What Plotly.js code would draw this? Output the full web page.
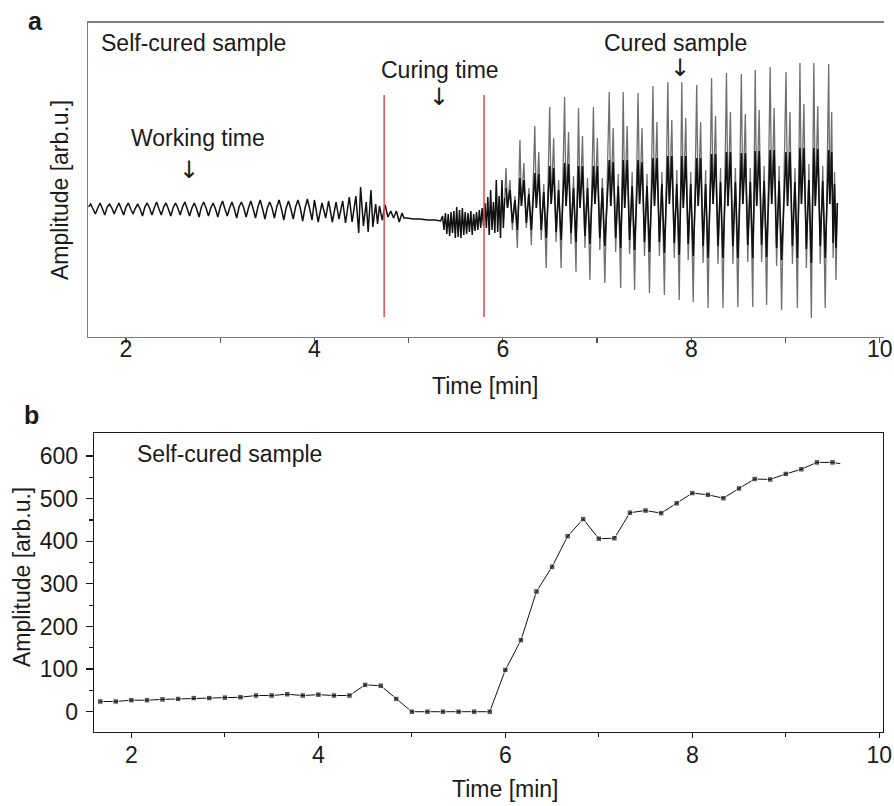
<!DOCTYPE html>
<html><head><meta charset="utf-8">
<script src="https://cdn.plot.ly/plotly-3.0.1.min.js"></script>
<style>html,body{margin:0;padding:0;background:#fff}#chart{width:894px;height:806px}</style>
</head><body><div id="chart"></div>
<script>
// ---------- Panel a: ultrasonic signal (amplitude in arbitrary units, baseline 0) ----------
const workT = [1.600,1.625,1.650,1.675,1.700,1.725,1.750,1.775,1.800,1.825,1.850,1.875,1.900,1.925,1.950,1.975,
  2.000,2.025,2.050,2.075,2.100,2.125,2.150,2.175,2.200,2.225,2.250,2.275,2.300,2.325,2.350,2.375,
  2.400,2.425,2.450,2.475,2.500,2.525,2.550,2.575,2.600,2.625,2.650,2.675,2.700,2.725,2.750,2.775,
  2.800,2.825,2.850,2.875,2.900,2.925,2.950,2.975,3.000,3.025,3.050,3.075,3.100,3.125,3.150,3.175,
  3.200,3.225,3.250,3.275,3.300,3.325,3.350,3.375,3.400,3.425,3.450,3.475,3.500,3.525,3.550,3.575,
  3.600,3.625,3.650,3.675,3.700,3.725,3.750,3.775,3.800,3.825,3.850,3.875,3.900,3.925,3.950,3.975,
  4.00,4.04,4.08,4.12,4.15,4.19,4.23,4.26,4.30,4.33,4.37,4.40,4.44,4.47,4.49,4.52,4.55,4.57,4.60,4.62,
  4.65,4.67,4.69,4.72,4.75,4.78,4.81,4.84,4.87,4.90,4.93,4.95];
const workY = [1,4,-1,-6, 0,5,-1,-7, 1,4,0,-6, 0,5,-1,-7,
  1,5,-1,-6, 0,4,-1,-8, 1,5,0,-7, 0,6,-1,-7,
  1,5,-1,-8, 0,5,0,-7, 1,6,-1,-8, 0,5,-1,-9,
  1,6,0,-8, 0,5,-1,-9, 1,7,-1,-8, 0,6,-1,-10,
  1,6,0,-9, 0,7,-1,-10, 1,8,-1,-11, 0,6,0,-10,
  1,8,-1,-12, 0,7,-1,-11, 1,8,0,-13, 0,9,-1,-12,
  8,-14,5,-10,7,-14,6,-11,7,-15,11,-14,12,-25,21,-18,6,-24,18,-19,
  4,-16,2,-12,3,-9,-3,-10,-3,-14,-5,-10];
const curingT = [4.98,5.05,5.12,5.20,5.28,5.34,
  5.36,5.375,5.39,5.405,5.42,5.435,5.45,5.465,5.48,5.495,5.51,5.525,5.54,5.555,5.57,5.585,5.60,5.615,5.63,5.645,5.66,5.675,5.69,5.705,5.72,5.735,5.75,5.765,5.78,5.795,
  5.81,5.825,5.84,5.855,5.87,5.885,5.90,5.915,5.93,5.945,5.96,5.975,5.99,6.005,6.02];
const curingY = [-10,-11,-11,-12,-12,-13,
  -8,-22,-5,-26,-6,-28,-4,-25,-3,-30,1,-29,-2,-30,0,-27,-4,-26,-5,-24,-3,-27,-6,-23,-4,-22,-2,-20,0,-18,
  5,-20,11,-27,18,-22,6,-25,28,-24,12,-30,28,-20,10];
const curedT = [
  6.033,6.049,6.075,6.101,6.128,6.154, 6.181,6.197,6.223,6.249,6.276,6.302,
  6.339,6.355,6.381,6.407,6.434,6.460, 6.497,6.513,6.539,6.565,6.592,6.618,
  6.655,6.671,6.697,6.723,6.750,6.776, 6.803,6.819,6.845,6.871,6.898,6.924,
  6.961,6.977,7.003,7.029,7.056,7.082, 7.129,7.145,7.171,7.197,7.224,7.250,
  7.277,7.293,7.319,7.345,7.372,7.398, 7.435,7.451,7.477,7.503,7.530,7.556,
  7.593,7.609,7.635,7.661,7.688,7.714, 7.751,7.767,7.793,7.819,7.846,7.872,
  7.899,7.915,7.941,7.967,7.994,8.020, 8.057,8.073,8.099,8.125,8.152,8.178,
  8.215,8.231,8.257,8.283,8.310,8.336, 8.373,8.389,8.415,8.441,8.468,8.494,
  8.531,8.547,8.573,8.599,8.626,8.652, 8.678,8.694,8.720,8.746,8.773,8.799,
  8.837,8.853,8.879,8.905,8.932,8.958, 9.005,9.021,9.047,9.073,9.100,9.126,
  9.153,9.169,9.195,9.221,9.248,9.274, 9.300,9.316,9.342,9.368,9.395,9.421,
  9.458,9.470,9.490,9.505,9.520,9.535, 9.550];
// full excursion of each cured-sample cycle (light grey spikes)
const curedY = [
  40,0,28,-22,12,-40, 68,2,45,-20,20,-37,
  82,0,56,-32,24,-60, 101,4,70,-34,28,-60,
  111,2,76,-36,32,-64, 100,0,72,-40,30,-72,
  101,4,70,-42,30,-75, 116,2,80,-44,34,-80,
  116,0,82,-46,36,-82, 115,4,80,-48,34,-85,
  122,2,86,-48,36,-87, 126,4,88,-50,38,-92,
  126,0,90,-52,36,-94, 123,2,86,-55,38,-100,
  130,4,92,-56,40,-100, 135,2,96,-56,40,-99,
  134,4,94,-54,40,-99, 138,2,98,-54,42,-97,
  141,4,100,-58,42,-102, 136,2,96,-56,40,-100,
  145,4,104,-60,44,-110, 145,2,102,-56,42,-100,
  144,4,96,-50,36,-72, 5];
// dense dark core of the same cycles
const curedCoreY = [
  20,0,18,-15,8,-22, 30,2,28,-15,14,-22,
  35,0,34,-22,16,-30, 42,4,40,-24,18,-32,
  45,2,44,-25,20,-34, 42,0,42,-28,20,-36,
  42,4,42,-30,20,-38, 48,2,46,-30,22,-40,
  48,0,48,-32,22,-42, 48,4,46,-34,22,-44,
  50,2,50,-34,24,-45, 52,4,52,-35,24,-47,
  52,0,52,-36,24,-48, 50,2,50,-38,24,-50,
  54,4,54,-38,26,-50, 56,2,56,-38,26,-50,
  55,4,55,-37,26,-50, 57,2,57,-37,27,-49,
  58,4,58,-40,27,-52, 56,2,56,-38,26,-50,
  60,4,60,-41,28,-55, 60,2,59,-38,27,-50,
  58,4,56,-35,24,-40, 5];
const curingBounds = [4.74, 5.80];   // red marker lines (min)

// ---------- Panel b: amplitude vs time ----------
const bTime = [1.667,1.833,2.0,2.167,2.333,2.5,2.667,2.833,3.0,3.167,3.333,3.5,3.667,3.833,4.0,4.167,4.333,4.5,4.667,4.833,
  5.0,5.167,5.333,5.5,5.667,5.833,6.0,6.167,6.333,6.5,6.667,6.833,7.0,7.167,7.333,7.5,7.667,7.833,8.0,8.167,8.333,8.5,8.667,8.833,
  9.0,9.167,9.333,9.5,9.583];
const bAmp = [24,24,27,27,29,30,32,32,33,34,38,38,41,38,40,38,38,63,61,30,
  0,0,0,0,0,0,98,168,282,340,412,452,406,407,467,472,466,489,513,509,501,524,546,545,
  558,569,585,585,582];

const xTickVals = [2,4,6,8,10];
const xMinorVals = [3,5,7,9];
const yTickVals = [0,100,200,300,400,500,600];
const yMinorVals = [50,150,250,350,450,550];

// ---------- helpers for pixel placement ----------
const W = 894, H = 806;
const px = v => v / W;
const py = v => 1 - v / H;
const FONT = 'Liberation Sans, Arial, Helvetica, sans-serif';
const TXT = '#1a1a1a';

const traces = [
  {x: workT.concat(curingT), y: workY.concat(curingY), xaxis: 'x', yaxis: 'y', type: 'scatter', mode: 'lines',
   line: {color: '#111', width: 1.5}, hoverinfo: 'skip'},
  {x: curingT.slice(-1).concat(curedT), y: curingY.slice(-1).concat(curedY), xaxis: 'x', yaxis: 'y', type: 'scatter', mode: 'lines',
   line: {color: '#6f6f6f', width: 1.3}, hoverinfo: 'skip'},
  {x: curedT, y: curedCoreY, xaxis: 'x', yaxis: 'y', type: 'scatter', mode: 'lines',
   line: {color: '#111', width: 1.6}, hoverinfo: 'skip'},
  {x: bTime, y: bAmp, xaxis: 'x2', yaxis: 'y2', type: 'scatter', mode: 'lines+markers',
   line: {color: '#111', width: 1},
   marker: {symbol: 'square', size: bTime.map((_, i) => i === bTime.length - 1 ? 0 : 5.5), color: '#111'}}
];

const shapes = curingBounds.map(b => ({
  type: 'line', xref: 'x', yref: 'paper', x0: b, x1: b,
  y0: py(317), y1: py(95), line: {color: '#e2555a', width: 1.6}, layer: 'above'
}));

function ann(text, x, y, opts) {
  return Object.assign({text, xref: 'paper', yref: 'paper', x: px(x), y: py(y),
    xanchor: 'center', yanchor: 'middle', showarrow: false,
    font: {family: FONT, size: 23, color: TXT}}, opts || {});
}
const ARROW_FONT = {family: 'DejaVu Sans, Liberation Sans, sans-serif', size: 24, color: TXT};

const annotations = [
  ann('<b>a</b>', 35.5, 21, {font: {family: FONT, size: 25, color: TXT}}),
  ann('<b>b</b>', 31, 415, {font: {family: FONT, size: 25, color: TXT}}),
  ann('Amplitude [arb.u.]', 60, 190, {textangle: -90}),
  ann('Amplitude [arb.u.]', 22, 577, {textangle: -90}),
  ann('Time [min]', 485, 386),
  ann('Time [min]', 505, 789),
  ann('Self-cured sample', 99, 43, {xanchor: 'left'}),
  ann('Self-cured sample', 135, 454, {xanchor: 'left'}),
  ann('Working time', 198, 138),
  ann('\u2193', 189, 170, {font: ARROW_FONT}),
  ann('Curing time', 440, 70),
  ann('\u2193', 439, 97, {font: ARROW_FONT}),
  ann('Cured sample', 675, 43),
  ann('\u2193', 680, 68, {font: ARROW_FONT})
];

const layout = {
  width: W, height: H, margin: {l: 0, r: 0, t: 0, b: 0},
  paper_bgcolor: '#fff', plot_bgcolor: 'rgba(0,0,0,0)', showlegend: false,
  font: {family: FONT, size: 23, color: TXT},
  xaxis: {domain: [px(88.3), px(884)], range: [1.6, 10.045], anchor: 'y',
    showline: true, mirror: true, linecolor: '#7d7d7d', linewidth: 1.5,
    tickmode: 'array', tickvals: xTickVals, ticks: 'outside', ticklen: 5, tickwidth: 1.2, tickcolor: '#555',
    minor: {tickmode: 'array', tickvals: xMinorVals, ticks: 'outside', ticklen: 5, tickwidth: 1.2, tickcolor: '#555'},
    showgrid: false, zeroline: false, tickfont: {family: FONT, size: 23, color: TXT},
    ticklabelstandoff: -14, ticklabeloverflow: 'allow'},
  yaxis: {domain: [py(336.7), py(22.7)], range: [-128.7, 185.3], anchor: 'x',
    showline: true, linecolor: '#7d7d7d', linewidth: 1.5, showticklabels: false, ticks: '',
    showgrid: false, zeroline: false},
  xaxis2: {domain: [px(94), px(883)], range: [1.6, 10.04], anchor: 'y2',
    showline: true, mirror: true, linecolor: '#1a1a1a', linewidth: 1.4,
    tickmode: 'array', tickvals: xTickVals, ticks: 'outside', ticklen: 5, tickwidth: 1.2, tickcolor: '#1a1a1a',
    minor: {tickmode: 'array', tickvals: xMinorVals, ticks: 'outside', ticklen: 4, tickwidth: 1.2, tickcolor: '#1a1a1a'},
    showgrid: false, zeroline: false, tickfont: {family: FONT, size: 23, color: TXT},
    ticklabelstandoff: -3, ticklabeloverflow: 'allow'},
  yaxis2: {domain: [py(732), py(433)], range: [-47.6, 654], anchor: 'x2',
    showline: true, mirror: true, linecolor: '#1a1a1a', linewidth: 1.4,
    tickmode: 'array', tickvals: yTickVals, ticks: 'outside', ticklen: 7, tickwidth: 1.2, tickcolor: '#1a1a1a',
    minor: {tickmode: 'array', tickvals: yMinorVals, ticks: 'outside', ticklen: 4, tickwidth: 1.2, tickcolor: '#1a1a1a'},
    showgrid: false, zeroline: false, tickfont: {family: FONT, size: 23, color: TXT}, ticklabelstandoff: 3},
  shapes, annotations
};

Plotly.newPlot('chart', traces, layout, {displayModeBar: false, staticPlot: true});
</script></body></html>
